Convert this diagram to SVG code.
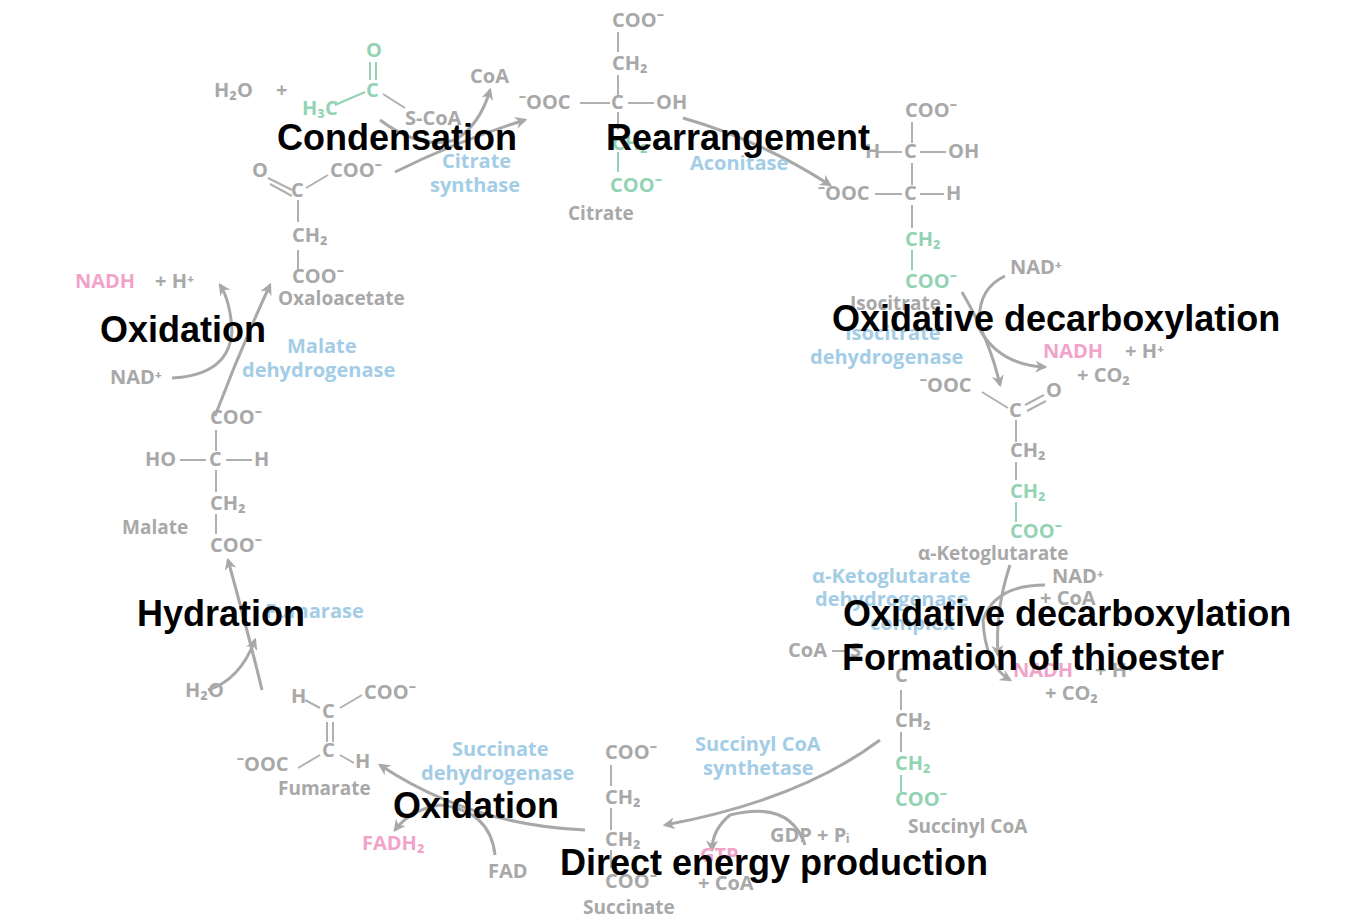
<svg xmlns="http://www.w3.org/2000/svg" width="1347" height="924" viewBox="0 0 1347 924">
<defs>
<marker id="ah" viewBox="0 0 10 10" refX="8" refY="5" markerWidth="4" markerHeight="4" orient="auto"><path d="M0,0 L10,5 L0,10 L3,5 z" fill="#a8a8a8"/></marker>
<style>
text{font-family:"Open Sans","Liberation Sans",sans-serif;font-weight:700;font-size:20px}
.g{fill:#a8a8a8}.gr{fill:#93d3b4}.b{fill:#a3cde6}.p{fill:#f2a3c9}
.n{font-size:19px}
.lab{font-family:"Liberation Sans",Arial,sans-serif;font-size:36px;fill:#000}
.bond{stroke:#b0b0b0;stroke-width:2;fill:none}.bg{stroke:#93d3b4;stroke-width:2;fill:none}
.arr{stroke:#a8a8a8;stroke-width:3;fill:none;marker-end:url(#ah)}
</style>
</defs>
<rect width="1347" height="924" fill="#fff"/>
<g id="connectors">
<path class="arr" d="M395,172 Q460,140 525,120"/>
<path class="arr" d="M380,120 Q420,150 455,140 Q480,125 490,90"/>
<path class="arr" d="M683,118 Q760,140 830,185"/>
<path class="arr" d="M962,292 Q990,340 1000,385"/>
<path class="arr" d="M1005,276 Q975,290 980,330 Q1000,365 1045,367"/>
<path class="arr" d="M1010,565 Q995,610 998,655"/>
<path class="arr" d="M1045,585 Q995,585 983,620 Q985,665 1010,680"/>
<path class="arr" d="M880,740 Q800,800 665,825"/>
<path class="arr" d="M805,845 Q790,800 730,815 Q712,830 712,850"/>
<path class="arr" d="M585,830 Q470,825 380,765"/>
<path class="arr" d="M495,855 Q490,810 440,805 Q410,810 395,830"/>
<path class="arr" d="M262,690 Q250,640 228,560"/>
<path class="arr" d="M208,690 Q240,680 255,640"/>
<path class="arr" d="M215,416 Q240,350 270,285"/>
<path class="arr" d="M172,378 Q230,375 232,330 Q230,300 220,285"/>
</g>
<g id="oxaloacetate">
<text x="252" y="177" class="g">O</text>
<path class="bond" d="M268,178 L292,190 M270,184 L292,196 M306,188 L328,175 M298,200 L298,222 M298,250 L298,272"/>
<text x="291" y="197" class="g">C</text>
<text x="330" y="177" class="g">COO⁻</text>
<text x="292" y="242" class="g">CH₂</text>
<text x="292" y="283" class="g">COO⁻</text>
<text x="278" y="305" class="g n">Oxaloacetate</text>
</g>
<g id="acetylcoa">
<text x="214" y="97" class="g">H₂O</text><text x="276" y="97" class="g">+</text>
<text x="366" y="57" class="gr">O</text>
<path class="bg" d="M370,62 L370,80 M376,62 L376,80 M335,105 L365,92"/>
<path class="bond" d="M383,94 L405,108"/>
<text x="366" y="97" class="gr">C</text>
<text x="302" y="115" class="gr">H₃C</text>
<text x="405" y="125" class="g">S-CoA</text>
<text x="470" y="83" class="g">CoA</text>
<text x="442" y="168" class="b">Citrate</text>
<text x="430" y="192" class="b">synthase</text>
</g>
<g id="citrate">
<text x="612" y="27" class="g">COO⁻</text>
<path class="bond" d="M618,32 L618,52 M618,75 L618,96 M580,103 L610,103 M628,103 L654,103 M618,112 L618,130"/>
<path class="bg" d="M618,152 L618,172"/>
<text x="612" y="70" class="g">CH₂</text>
<text x="519" y="109" class="g">⁻OOC</text>
<text x="611" y="109" class="g">C</text>
<text x="656" y="109" class="g">OH</text>
<text x="612" y="150" class="gr">CH₂</text>
<text x="610" y="192" class="gr">COO⁻</text>
<text x="568" y="220" class="g n">Citrate</text>
<text x="690" y="170" class="b">Aconitase</text>
</g>
<g id="isocitrate">
<text x="905" y="117" class="g">COO⁻</text>
<path class="bond" d="M912,122 L912,143 M878,152 L902,152 M920,152 L946,152 M912,163 L912,185 M875,194 L902,194 M920,194 L944,194 M912,205 L912,228"/>
<path class="bg" d="M912,250 L912,270"/>
<text x="865" y="158" class="g">H</text><text x="904" y="158" class="g">C</text><text x="948" y="158" class="g">OH</text>
<text x="818" y="200" class="g">⁻OOC</text><text x="904" y="200" class="g">C</text><text x="946" y="200" class="g">H</text>
<text x="905" y="246" class="gr">CH₂</text>
<text x="905" y="288" class="gr">COO⁻</text>
<text x="850" y="310" class="g n">Isocitrate</text>
<text x="845" y="340" class="b">Isocitrate</text>
<text x="810" y="364" class="b">dehydrogenase</text>
<text x="1010" y="274" class="g">NAD⁺</text>
<text x="1043" y="358" class="p">NADH</text><text x="1125" y="358" class="g">+  H⁺</text>
<text x="1077" y="382" class="g">+  CO₂</text>
</g>
<g id="ketoglutarate">
<text x="920" y="392" class="g">⁻OOC</text>
<path class="bond" d="M982,392 L1008,408 M1025,405 L1044,395 M1027,411 L1046,401 M1016,420 L1016,442 M1016,462 L1016,480"/>
<path class="bg" d="M1016,502 L1016,522"/>
<text x="1009" y="417" class="g">C</text><text x="1046" y="397" class="g">O</text>
<text x="1010" y="457" class="g">CH₂</text>
<text x="1010" y="498" class="gr">CH₂</text>
<text x="1010" y="538" class="gr">COO⁻</text>
<text x="918" y="560" class="g n">α-Ketoglutarate</text>
<text x="812" y="583" class="b">α-Ketoglutarate</text>
<text x="815" y="606" class="b">dehydrogenase</text>
<text x="870" y="630" class="b">complex</text>
<text x="1052" y="583" class="g">NAD⁺</text>
<text x="1040" y="605" class="g">+  CoA</text>
<text x="1013" y="677" class="p">NADH</text><text x="1095" y="677" class="g">+  H⁺</text>
<text x="1045" y="700" class="g">+  CO₂</text>
</g>
<g id="succinylcoa">
<text x="788" y="657" class="g">CoA</text>
<path class="bond" d="M832,651 L848,651 M901,690 L901,710 M901,732 L901,752"/>
<path class="bg" d="M901,775 L901,792"/>
<text x="850" y="657" class="g">S</text>
<text x="895" y="682" class="g">C</text>
<text x="895" y="727" class="g">CH₂</text>
<text x="895" y="770" class="gr">CH₂</text>
<text x="895" y="806" class="gr">COO⁻</text>
<text x="908" y="833" class="g n">Succinyl CoA</text>
<text x="695" y="751" class="b">Succinyl CoA</text>
<text x="703" y="775" class="b">synthetase</text>
<text x="770" y="842" class="g">GDP   +   Pᵢ</text>
<text x="700" y="862" class="p">GTP</text>
<text x="698" y="890" class="g">+  CoA</text>
</g>
<g id="succinate">
<text x="605" y="759" class="g">COO⁻</text>
<path class="bond" d="M611,765 L611,786 M611,808 L611,830 M611,850 L611,868"/>
<text x="605" y="804" class="g">CH₂</text>
<text x="605" y="846" class="g">CH₂</text>
<text x="605" y="888" class="g">COO⁻</text>
<text x="583" y="914" class="g n">Succinate</text>
<text x="452" y="756" class="b">Succinate</text>
<text x="421" y="780" class="b">dehydrogenase</text>
<text x="488" y="878" class="g">FAD</text>
<text x="362" y="850" class="p">FADH₂</text>
</g>
<g id="fumarate">
<text x="291" y="703" class="g">H</text>
<path class="bond" d="M305,700 L320,708 M340,708 L362,695 M327,722 L327,742 M333,722 L333,742 M298,768 L320,755 M340,755 L354,763"/>
<text x="322" y="718" class="g">C</text>
<text x="364" y="699" class="g">COO⁻</text>
<text x="322" y="757" class="g">C</text>
<text x="237" y="771" class="g">⁻OOC</text>
<text x="355" y="768" class="g">H</text>
<text x="278" y="795" class="g n">Fumarate</text>
<text x="185" y="697" class="g">H₂O</text>
<text x="265" y="618" class="b">Fumarase</text>
</g>
<g id="malate">
<text x="210" y="424" class="g">COO⁻</text>
<path class="bond" d="M216,430 L216,451 M180,460 L206,460 M226,460 L252,460 M216,470 L216,492 M216,514 L216,534"/>
<text x="145" y="466" class="g">HO</text><text x="209" y="466" class="g">C</text><text x="254" y="466" class="g">H</text>
<text x="210" y="510" class="g">CH₂</text>
<text x="122" y="534" class="g n">Malate</text>
<text x="210" y="552" class="g">COO⁻</text>
<text x="287" y="353" class="b">Malate</text>
<text x="242" y="377" class="b">dehydrogenase</text>
<text x="75" y="288" class="p">NADH</text><text x="155" y="288" class="g">+  H⁺</text>
<text x="110" y="384" class="g">NAD⁺</text>
</g>
<g id="labels">
<text x="277" y="150" class="lab">Condensation</text>
<text x="606" y="150" class="lab">Rearrangement</text>
<text x="832" y="331" class="lab">Oxidative decarboxylation</text>
<text x="843" y="626" class="lab">Oxidative decarboxylation</text>
<text x="842" y="670" class="lab">Formation of thioester</text>
<text x="560" y="875" class="lab">Direct energy production</text>
<text x="393" y="818" class="lab">Oxidation</text>
<text x="137" y="626" class="lab">Hydration</text>
<text x="100" y="342" class="lab">Oxidation</text>
</g>
</svg>
